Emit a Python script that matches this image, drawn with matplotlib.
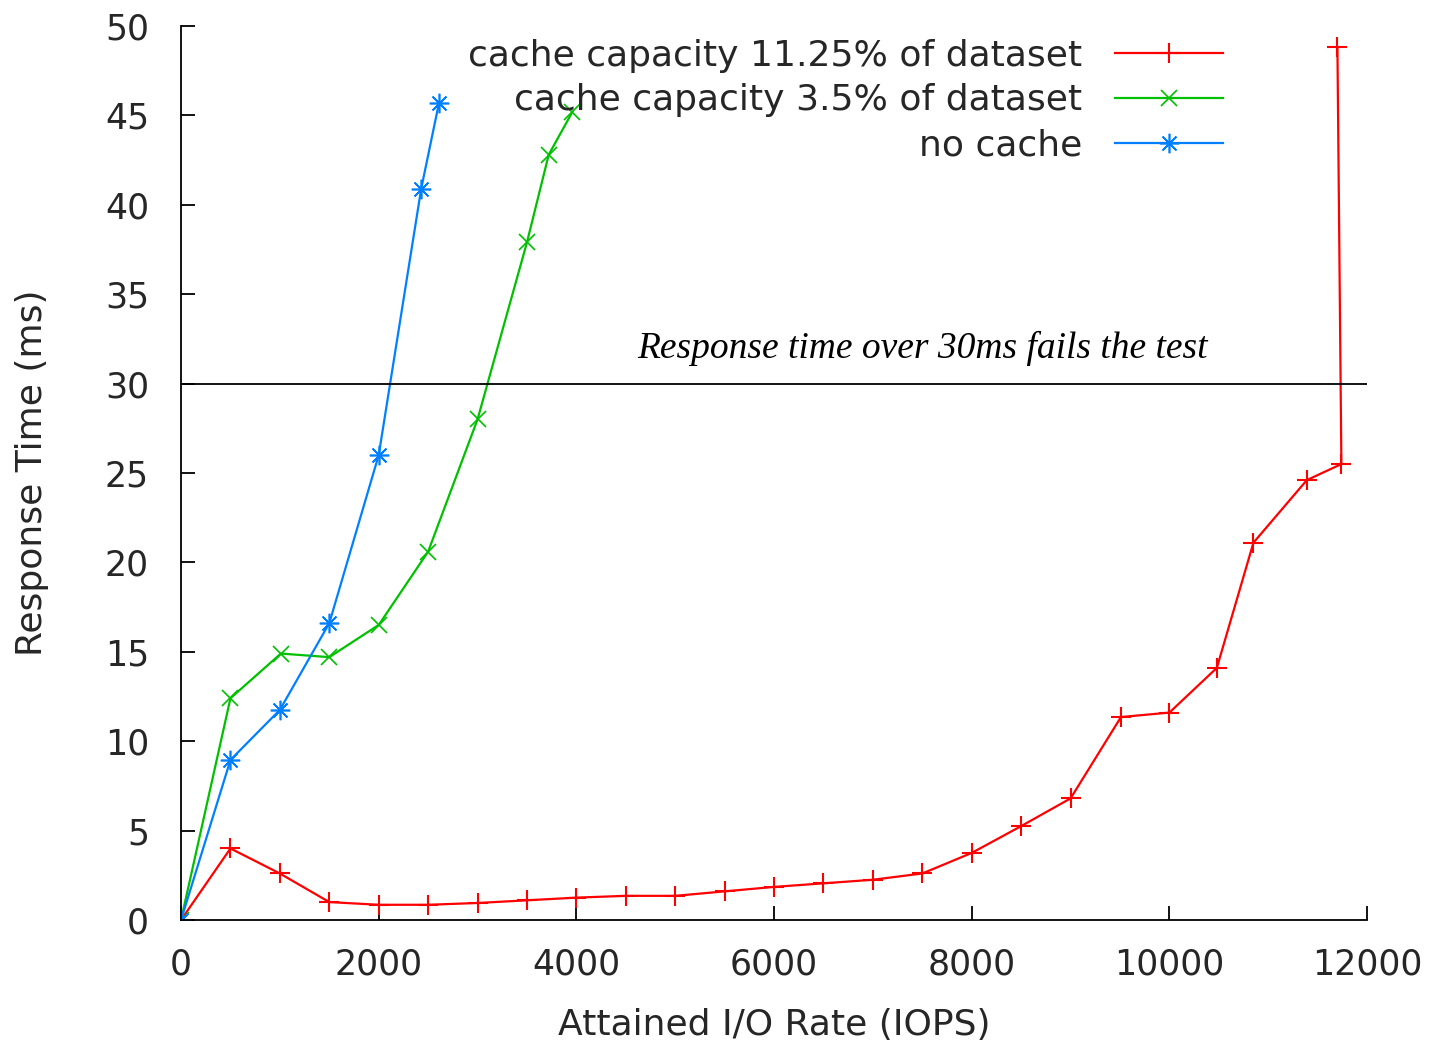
import numpy as np
import matplotlib
matplotlib.use("Agg")
import matplotlib.pyplot as plt

# data
big_x = [0, 500, 1000, 1500, 2000, 2500, 3000, 3500, 4000, 4500, 5000, 5500,
         6000, 6500, 7000, 7500, 8000, 8500, 9000, 9510, 10000, 10480, 10850,
         11390, 11740, 11700]
big_y = [0, 4.0, 2.6, 1.0, 0.85, 0.85, 0.95, 1.1, 1.25, 1.35, 1.35, 1.6,
         1.85, 2.05, 2.25, 2.6, 3.75, 5.25, 6.8, 11.35, 11.6, 14.1, 21.1,
         24.6, 25.5, 48.8]

small_x = [0, 500, 1010, 1500, 2000, 2500, 3000, 3500, 3720, 3960]
small_y = [0, 12.4, 14.9, 14.7, 16.5, 20.6, 28.0, 37.9, 42.8, 45.2]

none_x = [0, 500, 1000, 1500, 2000, 2430, 2610]
none_y = [0, 8.95, 11.75, 16.6, 26.0, 40.9, 45.7]

labels = ["cache capacity 11.25% of dataset",
          "cache capacity 3.5% of dataset",
          "no cache"]
threshold = 30

plt.rcParams['font.family'] = ['DejaVu Sans']
txt = '#262626'

fig = plt.figure(figsize=(14.3, 10.44), dpi=100)
ax = fig.add_axes([0.1266, 0.1188, 0.8294, 0.8563])

ax.plot(big_x, big_y, color='#ff0000', lw=1.6, marker='+', ms=14, mew=1.5, label=labels[0])
ax.plot(small_x, small_y, color='#00c000', lw=1.6, marker='x', ms=11, mew=1.2, label=labels[1])
ax.plot(none_x, none_y, color='#0080ff', lw=1.6, marker=(8, 2, 0), ms=14, mew=1.2, label=labels[2])

ax.axhline(threshold, color='black', lw=1.3)
ax.text(7500, 31.95, "Response time over 30ms fails the test", ha='center', va='center',
        fontsize=27, style='italic', family='Liberation Serif', color='black')

ax.set_xlim(0, 12000)
ax.set_ylim(0, 50)
ax.set_xticks(np.arange(0, 12001, 2000))
ax.set_yticks(np.arange(0, 51, 5))
ax.tick_params(direction='in', length=10, width=1.3, labelsize=25, labelcolor=txt)
ax.tick_params(axis='x', pad=20)
ax.tick_params(axis='y', pad=23)
ax.spines['top'].set_visible(False)
ax.spines['right'].set_visible(False)
for s in ['left', 'bottom']:
    ax.spines[s].set_linewidth(1.3)

ax.set_xlabel("Attained I/O Rate (IOPS)", fontsize=26, color=txt, labelpad=19)
ax.set_ylabel("Response Time (ms)", fontsize=26, color=txt, labelpad=40)

leg = ax.legend(loc='upper right', bbox_to_anchor=(0.8786, 0.986), frameon=False,
                markerfirst=False, prop={'size': 26}, handlelength=3.0, handletextpad=0.9,
                labelspacing=0.3, borderpad=0, borderaxespad=0)
for t in leg.get_texts():
    t.set_color(txt)
    t.set_ha('right')

fig.savefig("out.png", dpi=100)
